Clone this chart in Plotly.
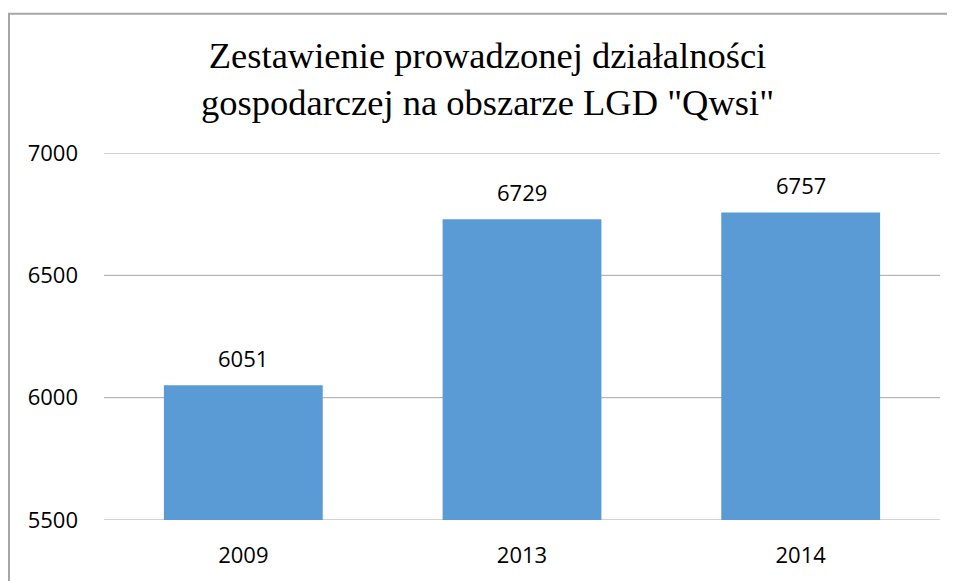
import plotly.graph_objects as go

categories = ["2009", "2013", "2014"]
values = [6051, 6729, 6757]
y_ticks = [5500, 6000, 6500, 7000]
title_text = 'Zestawienie prowadzonej działalności<br>gospodarczej na obszarze LGD "Qwsi"'

OFF = 8  # page body margin
W, H = 955 - OFF, 581 - OFF
L, T = 104 - OFF, 153 - OFF
R, B = W - (940 - OFF), H - (522 - OFF)
pw, ph = W - L - R, H - T - B


def xp(X):
    return (X - OFF - L) / pw


def yp(Y):
    return (H - B - (Y - OFF)) / ph


SANS = "Open Sans, Liberation Sans, sans-serif"
SERIF = "Liberation Serif, Times New Roman, serif"

pos = list(range(len(categories)))

fig = go.Figure()
fig.add_trace(go.Bar(
    x=pos, y=values, width=0.57,
    marker=dict(color="#5b9bd5", line=dict(width=0)),
    hoverinfo="skip",
))

for i, v in zip(pos, values):
    fig.add_annotation(x=i, y=v, xref="x", yref="y", text=str(v), showarrow=False,
                       yanchor="middle", yshift=27,
                       font=dict(family=SANS, size=22, color="#000000"))

fig.add_annotation(xref="paper", yref="paper", x=xp(487), y=yp(78.5),
                   xanchor="center", yanchor="middle", text=title_text, showarrow=False,
                   align="center", font=dict(family=SERIF, size=36.5, color="#000000"))

# horizontal grid lines at the tick values
for t in y_ticks:
    fig.add_shape(type="line", xref="paper", yref="y", x0=0, x1=1, y0=t, y1=t,
                  line=dict(color="#a6a6a6", width=1), layer="below")

fig.add_shape(type="rect", xref="paper", yref="paper",
              x0=xp(9), x1=1.3, y0=-0.5, y1=yp(13),
              line=dict(color="#a6a6a6", width=2), fillcolor="rgba(0,0,0,0)", layer="below")

fig.update_layout(
    width=W, height=H,
    margin=dict(l=L, r=R, t=T, b=B),
    paper_bgcolor="white", plot_bgcolor="white",
    showlegend=False,
    xaxis=dict(range=[-0.5, len(categories) - 0.5], tickvals=pos, ticktext=categories,
               showgrid=False, showline=False, zeroline=False, ticks="", ticklabelstandoff=20,
               tickfont=dict(family=SANS, size=22, color="#000000")),
    yaxis=dict(range=[5500, 7000], tickvals=y_ticks, showgrid=False,
               zeroline=False, showline=False, ticks="", ticklabelstandoff=25,
               tickfont=dict(family=SANS, size=22, color="#000000")),
)

fig.write_html("out.html")
